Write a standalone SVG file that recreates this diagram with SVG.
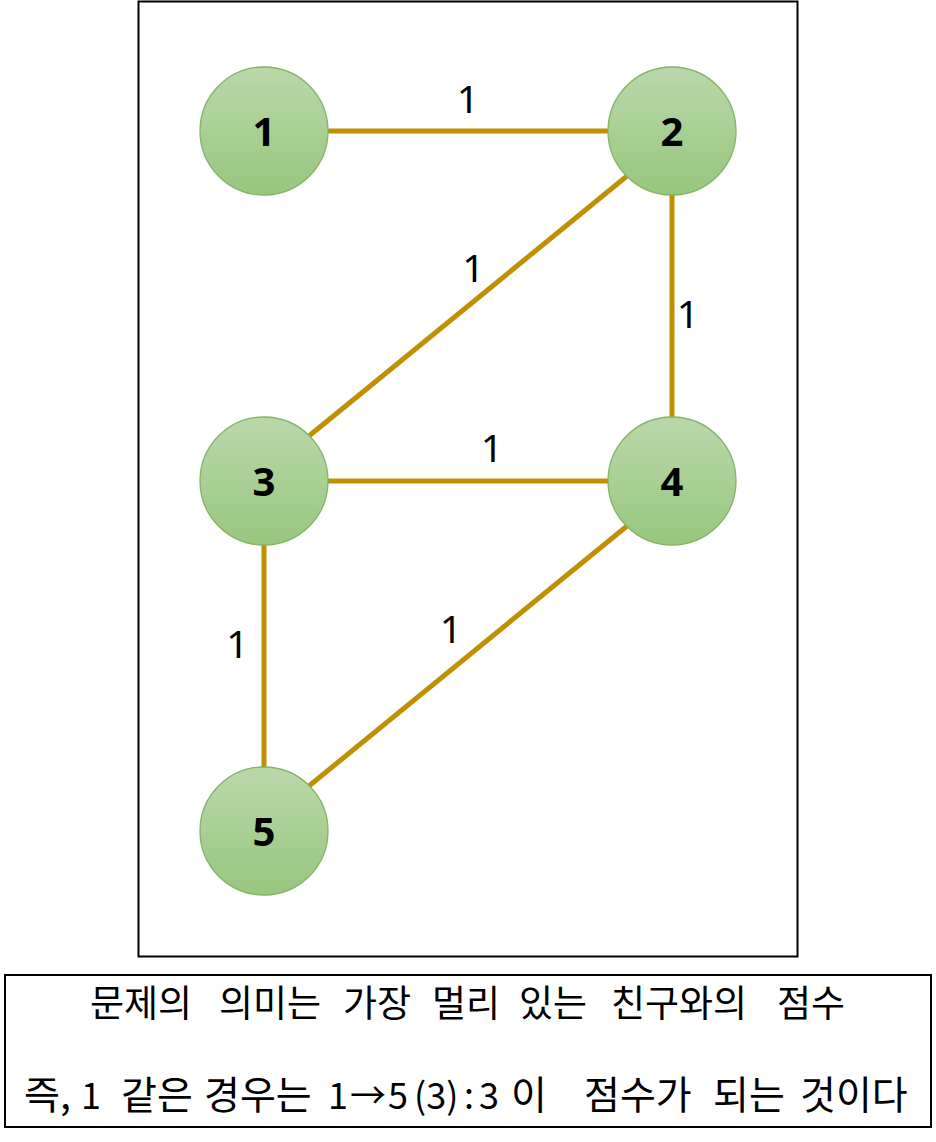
<svg xmlns="http://www.w3.org/2000/svg" width="936" height="1142" viewBox="0 0 936 1142">
<style>
.frame{fill:none;stroke:#000;stroke-width:2}
.node circle{fill:url(#g);stroke:#82B366;stroke-width:1.3}
.node text{font-family:"Noto Sans","Open Sans",sans-serif;font-size:40px;font-weight:bold;fill:#000;text-anchor:middle}
.edge{stroke:#BF9000;stroke-width:5;fill:none}
.lbl{font-family:"Noto Sans","Open Sans",sans-serif;font-size:39px;fill:#000;text-anchor:middle}
.note{font-family:"Noto Sans CJK KR","Noto Sans",sans-serif;fill:#000}
.n1{font-size:37px}
.n2{font-size:39px}
.lat{font-size:36px}
</style>
<defs>
<linearGradient id="g" x1="0" y1="0" x2="0" y2="1">
<stop offset="0" stop-color="#B9D8AA"/>
<stop offset="1" stop-color="#97C77E"/>
</linearGradient>
</defs>
<rect id="frame" class="frame" x="138.5" y="1.5" width="659" height="955"/>
<g id="connectors">
<line class="edge" x1="328" y1="131" x2="608" y2="131"/>
<line class="edge" x1="672" y1="195" x2="672" y2="417"/>
<line class="edge" x1="328" y1="481" x2="608" y2="481"/>
<line class="edge" x1="264" y1="545" x2="264" y2="767"/>
<line class="edge" x1="626.7" y1="176.3" x2="309.3" y2="435.7"/>
<line class="edge" x1="626.7" y1="526.3" x2="309.3" y2="785.7"/>
<text class="lbl" x="468" y="113">1</text>
<text class="lbl" x="473.5" y="281.5">1</text>
<text class="lbl" x="688" y="328">1</text>
<text class="lbl" x="492" y="461.5">1</text>
<text class="lbl" x="237.5" y="658">1</text>
<text class="lbl" x="451" y="643">1</text>
</g>
<g id="node1" class="node"><circle cx="264" cy="131" r="64"/><text x="264" y="146">1</text></g>
<g id="node2" class="node"><circle cx="672" cy="131" r="64"/><text x="672" y="146">2</text></g>
<g id="node3" class="node"><circle cx="264" cy="481" r="64"/><text x="264" y="496">3</text></g>
<g id="node4" class="node"><circle cx="672" cy="481" r="64"/><text x="672" y="496">4</text></g>
<g id="node5" class="node"><circle cx="264" cy="831" r="64"/><text x="264" y="846">5</text></g>
<g id="note">
<rect class="frame" x="5" y="975" width="926" height="152"/>
<text class="note n1" y="1017"><tspan x="90">문제의</tspan><tspan x="219">의미는</tspan><tspan x="343">가장</tspan><tspan x="432">멀리</tspan><tspan x="519">있는</tspan><tspan x="611">친구와의</tspan><tspan x="777">점수</tspan></text>
<text class="note n2" y="1109"><tspan x="24">즉,</tspan><tspan class="lat" x="81">1</tspan><tspan x="121">같은</tspan><tspan x="204">경우는</tspan><tspan class="lat" x="328">1</tspan><tspan class="lat" x="350">→</tspan><tspan class="lat" x="388">5</tspan><tspan class="lat" x="414">(3)</tspan><tspan class="lat" x="464">:</tspan><tspan class="lat" x="479">3</tspan><tspan x="511">이</tspan><tspan x="584">점수가</tspan><tspan x="713">되는</tspan><tspan x="800">것이다</tspan></text>
</g>
</svg>
